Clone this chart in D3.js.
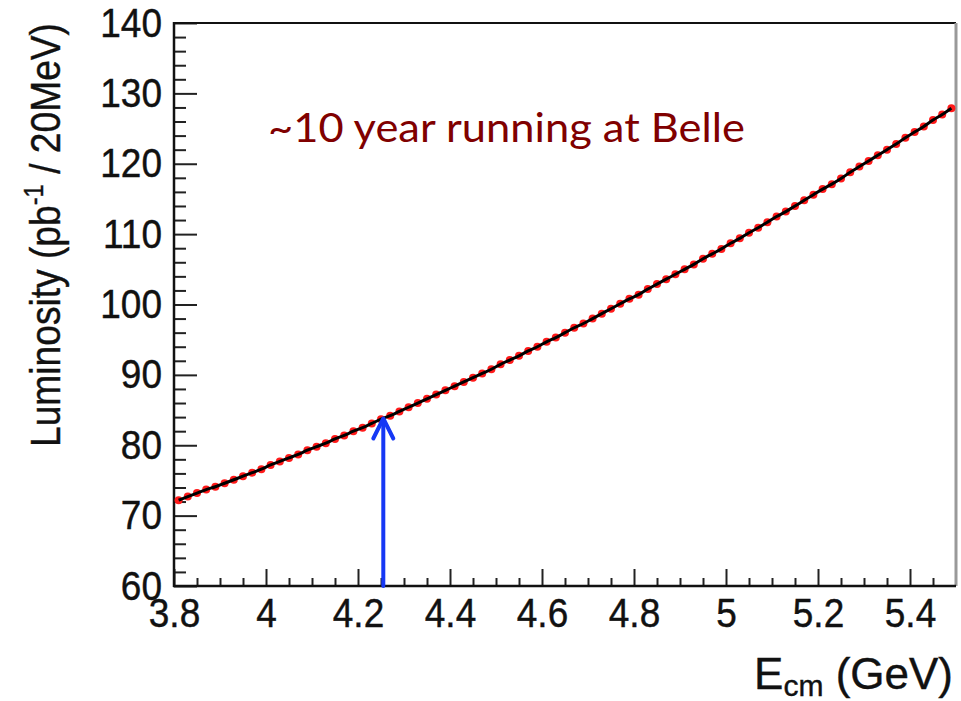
<!DOCTYPE html>
<html>
<head>
<meta charset="utf-8">
<script src="https://cdn.jsdelivr.net/npm/d3@7"></script>
<style>
  html, body { margin: 0; padding: 0; background: #fff; }
  svg { display: block; }
</style>
</head>
<body>
<svg id="chart" width="961" height="701"></svg>
<script>
// Bin centres (GeV) of the 20 MeV bins, 3.81 .. 5.49
const energies = d3.range(85).map(i => +(3.81 + 0.02 * i).toFixed(2));

// Effective luminosity per 20 MeV bin (pb^-1)
const luminosity = [
  72.2, 72.7, 73.2, 73.7, 74.1, 74.6, 75.1, 75.6, 76.1, 76.6,
  77.2, 77.7, 78.2, 78.7, 79.3, 79.8, 80.3, 80.9, 81.4, 82.0,
  82.5, 83.1, 83.7, 84.2, 84.8, 85.4, 86.0, 86.6, 87.2, 87.8,
  88.4, 89.0, 89.6, 90.2, 90.8, 91.5, 92.1, 92.7, 93.4, 94.0,
  94.7, 95.3, 96.0, 96.7, 97.3, 98.0, 98.7, 99.4, 100.1, 100.8,
  101.4, 102.2, 102.9, 103.6, 104.3, 105.0, 105.7, 106.5, 107.2, 107.9,
  108.7, 109.4, 110.2, 110.9, 111.7, 112.5, 113.2, 114.0, 114.8, 115.6,
  116.4, 117.1, 117.9, 118.8, 119.6, 120.4, 121.2, 122.0, 122.8, 123.7,
  124.5, 125.3, 126.2, 127.0, 127.9
];

const xTickLabels = [3.8, 4.0, 4.2, 4.4, 4.6, 4.8, 5.0, 5.2, 5.4];
const yTickLabels = [60, 70, 80, 90, 100, 110, 120, 130, 140];

// Arrow marking the 4.26 GeV point on the curve
const arrowEnergy = 4.255;
const arrowLuminosity = 83.8;

const annotation = "~10 year running at Belle";

const svg = d3.select("#chart");
svg.append("rect").attr("width", 961).attr("height", 701).attr("fill", "#fff");

const x = d3.scaleLinear().domain([3.8, 5.5]).range([174, 956]);
const y = d3.scaleLinear().domain([60, 140]).range([586, 23]);

const axisFont = "'Liberation Sans', Arial, Helvetica, sans-serif";

// Minor ticks
const xMinor = d3.range(3.85, 5.5, 0.05).filter(v => Math.abs(v / 0.2 - Math.round(v / 0.2)) > 1e-6);
const yMinor = d3.range(62, 140, 2).filter(v => v % 10 !== 0);

const gx = svg.append("g").attr("transform", `translate(0,${y(60)})`);
gx.call(d3.axisBottom(x).tickValues(xMinor).tickSize(-8).tickSizeOuter(0).tickFormat(""));
gx.call(g => g.select(".domain").remove());
const gxMaj = svg.append("g").attr("transform", `translate(0,${y(60)})`);
gxMaj.call(d3.axisBottom(x).tickValues(xTickLabels).tickSize(-17).tickSizeOuter(0)
  .tickPadding(11).tickFormat(d3.format("~g")));
gxMaj.call(g => g.select(".domain").remove());

const gy = svg.append("g").attr("transform", `translate(${x(3.8)},0)`);
gy.call(d3.axisLeft(y).tickValues(yMinor).tickSize(-12).tickSizeOuter(0).tickFormat(""));
gy.call(g => g.select(".domain").remove());
const gyMaj = svg.append("g").attr("transform", `translate(${x(3.8)},0)`);
gyMaj.call(d3.axisLeft(y).tickValues(yTickLabels).tickSize(-23).tickSizeOuter(0).tickPadding(12));
gyMaj.call(g => g.select(".domain").remove());

svg.selectAll(".tick line").attr("stroke", "#222").attr("stroke-width", 2);
svg.selectAll(".tick text")
  .attr("font-family", axisFont)
  .attr("font-size", 37)
  .attr("fill", "#111")
  .attr("stroke", "#111").attr("stroke-width", 0.4)
  .attr("transform", "scale(1,1.1)");

// Frame
svg.append("line").attr("x1", x(3.8)).attr("x2", x(5.5)).attr("y1", y(140)).attr("y2", y(140))
  .attr("stroke", "#111").attr("stroke-width", 2);
svg.append("line").attr("x1", x(5.5)).attr("x2", x(5.5)).attr("y1", y(140)).attr("y2", y(60))
  .attr("stroke", "#999").attr("stroke-width", 3);
svg.append("line").attr("x1", x(3.8)).attr("x2", x(3.8)).attr("y1", y(140) - 1).attr("y2", y(60) + 1)
  .attr("stroke", "#111").attr("stroke-width", 2.5);
svg.append("line").attr("x1", x(3.8) - 1).attr("x2", x(5.5)).attr("y1", y(60)).attr("y2", y(60))
  .attr("stroke", "#111").attr("stroke-width", 2.5);

// Data points
const points = energies.map((e, i) => ({ e, v: luminosity[i] }));
svg.append("g").selectAll("circle").data(points).join("circle")
  .attr("cx", d => x(d.e)).attr("cy", d => y(d.v)).attr("r", 4)
  .attr("fill", "#ff1a1a");

// Fit curve
svg.append("path").datum(points)
  .attr("d", d3.line().x(d => x(d.e)).y(d => y(d.v)).curve(d3.curveMonotoneX))
  .attr("fill", "none").attr("stroke", "#000").attr("stroke-width", 3);

// Arrow
const ax = x(arrowEnergy), ay = y(arrowLuminosity);
const arrow = svg.append("g").attr("stroke", "#1638f5").attr("stroke-width", 4)
  .attr("fill", "none").attr("stroke-linecap", "round").attr("stroke-linejoin", "round");
arrow.append("line").attr("x1", ax).attr("x2", ax).attr("y1", y(60)).attr("y2", ay + 1);
arrow.append("path").attr("d", `M${ax - 10},${ay + 20} L${ax},${ay} L${ax + 10},${ay + 20}`);

// Annotation
svg.append("text").attr("x", 268).attr("y", 142)
  .attr("font-family", "Lato, 'Open Sans', sans-serif")
  .attr("font-size", 40).attr("fill", "#800000")
  .attr("textLength", 477).attr("lengthAdjust", "spacingAndGlyphs")
  .text(annotation);

// Axis titles
const xt = svg.append("text").attr("x", 953).attr("y", 689).attr("text-anchor", "end")
  .attr("font-family", axisFont).attr("font-size", 44).attr("fill", "#111")
  .attr("stroke", "#111").attr("stroke-width", 0.4);
xt.append("tspan").text("E");
xt.append("tspan").attr("font-size", 30).attr("dy", 7).text("cm");
xt.append("tspan").attr("dy", -7).text(" (GeV)");

const yt = svg.append("text")
  .attr("transform", "translate(60,235) rotate(-90)")
  .attr("text-anchor", "middle")
  .attr("font-family", axisFont).attr("font-size", 42).attr("fill", "#111")
  .attr("stroke", "#111").attr("stroke-width", 0.4)
  .attr("textLength", 424).attr("lengthAdjust", "spacingAndGlyphs");
yt.append("tspan").text("Luminosity (pb");
yt.append("tspan").attr("font-size", 27).attr("dy", -17).text("-1");
yt.append("tspan").attr("dy", 17).text(" / 20MeV)");
</script>
</body>
</html>
